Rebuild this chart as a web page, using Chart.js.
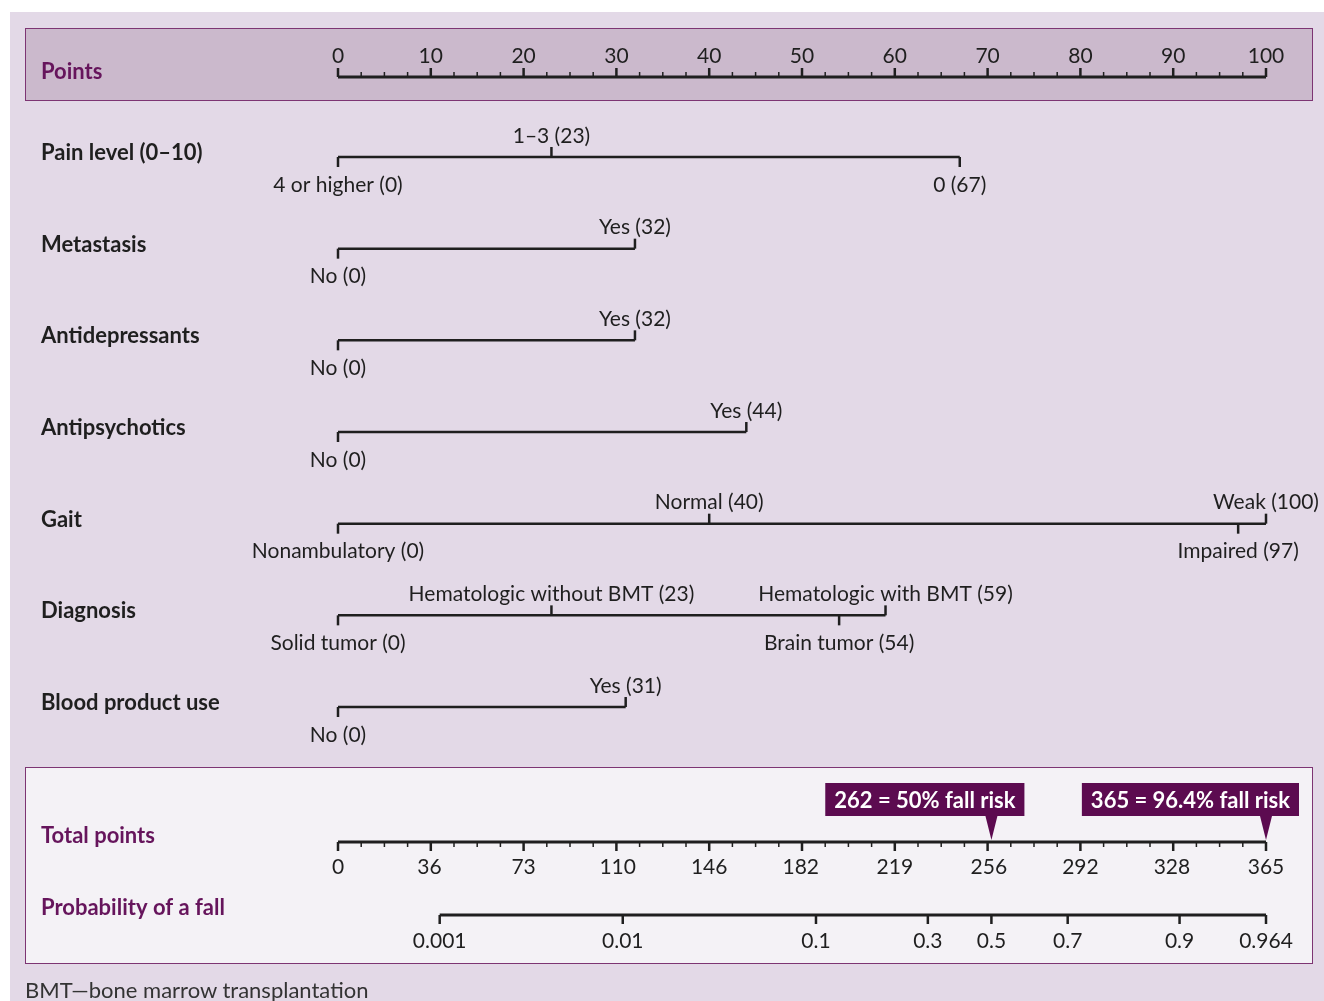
<!DOCTYPE html>
<html>
<head>
<meta charset="utf-8">
<script src="https://cdn.jsdelivr.net/npm/chart.js@4.4.0/dist/chart.umd.min.js"></script>
<style>
    body { margin: 0; background: #fff; width: 1324px; height: 1001px; position: relative; overflow: hidden; font-family: Lato, sans-serif; }
    #panel { position: absolute; left: 10px; top: 12px; width: 1314px; height: 989px; background: #e3d9e7; }
    .box { position: absolute; left: 25px; width: 1288px; border: 1.5px solid #7d3573; box-sizing: border-box; }
    #topBox { top: 28px; height: 73px; background: #cbb9cc; }
    #bottomBox { top: 767px; height: 197px; background: #f4f2f6; }
    #note { position: absolute; left: 25px; top: 976px; font-size: 22px; color: #333; }
    #c { position: absolute; left: 0; top: 0; }
</style>
</head>
<body>
<div id="panel"></div>
<div class="box" id="topBox"></div>
<div class="box" id="bottomBox"></div>
<canvas id="c" width="1324" height="1001"></canvas>
<div id="note">BMT—bone marrow transplantation</div>

<script>
// ---- data ----
const variableNames = ['Pain level (0–10)', 'Metastasis', 'Antidepressants', 'Antipsychotics', 'Gait', 'Diagnosis', 'Blood product use'];

const painLevels = ['4 or higher', '1–3', '0'];
const painPoints = [0, 23, 67];
const metastasisLevels = ['No', 'Yes'];
const metastasisPoints = [0, 32];
const antidepressantLevels = ['No', 'Yes'];
const antidepressantPoints = [0, 32];
const antipsychoticLevels = ['No', 'Yes'];
const antipsychoticPoints = [0, 44];
const gaitLevels = ['Nonambulatory', 'Normal', 'Impaired', 'Weak'];
const gaitPoints = [0, 40, 97, 100];
const diagnosisLevels = ['Solid tumor', 'Hematologic without BMT', 'Brain tumor', 'Hematologic with BMT'];
const diagnosisPoints = [0, 23, 54, 59];
const bloodLevels = ['No', 'Yes'];
const bloodPoints = [0, 31];

const pointTicks = [0, 10, 20, 30, 40, 50, 60, 70, 80, 90, 100];
const totalTicks = [0, 36, 73, 110, 146, 182, 219, 256, 292, 328, 365];
const probLabels = ['0.001', '0.01', '0.1', '0.3', '0.5', '0.7', '0.9', '0.964'];
const probTotals = [40, 112, 188, 232, 257, 287, 331, 365];   // where each probability sits on the total points scale

const riskNotes = ['262 = 50% fall risk', '365 = 96.4% fall risk'];
const riskProbs = ['0.5', '0.964'];

const allLevels = [painLevels, metastasisLevels, antidepressantLevels, antipsychoticLevels, gaitLevels, diagnosisLevels, bloodLevels];
const allPoints = [painPoints, metastasisPoints, antidepressantPoints, antipsychoticPoints, gaitPoints, diagnosisPoints, bloodPoints];

// ---- layout (pixels on the y scale) ----
const rowTop = 157, rowGap = 91.67;
const pointsAxisY = 77, totalAxisY = 842, probAxisY = 915;
const rowY = variableNames.map((_, i) => rowTop + i * rowGap);
const MINOR_PER_MAJOR = 4;   // 3 small ticks between labelled ticks

const INK = '#1f1f1f';
const PURPLE = '#66155c';
const NAME_X = 41;

function seg(ctx, x1, y1, x2, y2, w) {
    ctx.beginPath();
    ctx.lineWidth = w;
    ctx.moveTo(x1, y1);
    ctx.lineTo(x2, y2);
    ctx.stroke();
}

const nomogram = {
    id: 'nomogram',
    afterDatasetsDraw(chart) {
        const { ctx } = chart;
        const x = chart.scales.x, total = chart.scales.total, y = chart.scales.y;
        ctx.save();
        ctx.strokeStyle = INK;
        ctx.lineCap = 'butt';
        ctx.textBaseline = 'middle';

        // Points axis
        const py = y.getPixelForValue(pointsAxisY);
        const nP = (pointTicks.length - 1) * MINOR_PER_MAJOR;
        for (let k = 0; k <= nP; k++) {
            const px = x.getPixelForValue(k * 100 / nP);
            const major = k % MINOR_PER_MAJOR === 0;
            seg(ctx, px, py, px, py - (major ? 9 : 5), major ? 2.5 : 1.5);
        }
        ctx.font = '21px Lato';
        ctx.fillStyle = INK;
        ctx.textAlign = 'center';
        pointTicks.forEach(v => ctx.fillText(String(v), x.getPixelForValue(v), py - 21));
        ctx.font = 'bold 22px Lato';
        ctx.fillStyle = PURPLE;
        ctx.textAlign = 'left';
        ctx.fillText('Points', NAME_X, py - 5);

        // variable rows
        variableNames.forEach((name, i) => {
            const ry = y.getPixelForValue(rowY[i]);
            ctx.font = 'bold 22px Lato';
            ctx.fillStyle = INK;
            ctx.textAlign = 'left';
            ctx.fillText(name, NAME_X, ry - 4);
            ctx.font = '21px Lato';
            ctx.textAlign = 'center';
            allPoints[i].forEach((p, j) => {
                const px = x.getPixelForValue(p);
                const up = j % 2 === 1;
                seg(ctx, px, ry, px, ry + (up ? -10 : 10), 2.5);
                ctx.fillText(`${allLevels[i][j]} (${p})`, px, up ? ry - 21 : ry + 28);
            });
        });

        // Total points axis
        const ty = y.getPixelForValue(totalAxisY);
        const nT = (totalTicks.length - 1) * MINOR_PER_MAJOR;
        for (let k = 0; k <= nT; k++) {
            const px = total.getPixelForValue(k * 365 / nT);
            const major = k % MINOR_PER_MAJOR === 0;
            seg(ctx, px, ty, px, ty + (major ? 9 : 5), major ? 2.5 : 1.5);
        }
        ctx.font = '21px Lato';
        ctx.fillStyle = INK;
        ctx.textAlign = 'center';
        totalTicks.forEach(v => ctx.fillText(String(v), total.getPixelForValue(v), ty + 25));

        // Probability axis
        const qy = y.getPixelForValue(probAxisY);
        probTotals.forEach((t, i) => {
            const px = total.getPixelForValue(t);
            seg(ctx, px, qy, px, qy + 9, 2.5);
            ctx.fillText(probLabels[i], px, qy + 26);
        });

        ctx.font = 'bold 22px Lato';
        ctx.fillStyle = PURPLE;
        ctx.textAlign = 'left';
        ctx.fillText('Total points', NAME_X, ty - 6);
        ctx.fillText('Probability of a fall', NAME_X, qy - 7);

        // risk call-outs
        riskNotes.forEach((txt, i) => {
            const tipX = total.getPixelForValue(probTotals[probLabels.indexOf(riskProbs[i])]);
            ctx.font = 'bold 22px Lato';
            const w = ctx.measureText(txt).width + 18;
            const right = tipX + 33, left = right - w;
            const top = ty - 59, bottom = ty - 26;
            ctx.fillStyle = '#5c0b50';
            ctx.fillRect(left, top, w, bottom - top);
            ctx.beginPath();
            ctx.moveTo(tipX - 6, bottom);
            ctx.lineTo(tipX + 6, bottom);
            ctx.lineTo(tipX, ty - 2);
            ctx.closePath();
            ctx.fill();
            ctx.fillStyle = '#fff';
            ctx.textAlign = 'center';
            ctx.fillText(txt, left + w / 2, (top + bottom) / 2 + 1);
        });
        ctx.restore();
    }
};

function lineSet(xs, yv, axis, width) {
    return {
        data: [{ x: Math.min(...xs), y: yv }, { x: Math.max(...xs), y: yv }],
        xAxisID: axis,
        showLine: true,
        borderColor: INK,
        borderWidth: width,
        pointRadius: 0,
        borderCapStyle: 'butt'
    };
}

function draw() {
    const datasets = [
        lineSet(pointTicks, pointsAxisY, 'x', 3),
        ...allPoints.map((pts, i) => lineSet(pts, rowY[i], 'x', 2.5)),
        lineSet(totalTicks, totalAxisY, 'total', 3),
        lineSet(probTotals, probAxisY, 'total', 3)
    ];

    new Chart(document.getElementById('c'), {
        type: 'scatter',
        data: { datasets },
        options: {
            responsive: false,
            animation: false,
            layout: { padding: { left: 338, right: 58, top: 0, bottom: 0 } },
            plugins: { legend: { display: false }, tooltip: { enabled: false } },
            scales: {
                x: { type: 'linear', min: 0, max: 100, display: false },
                total: { type: 'linear', axis: 'x', min: 0, max: 365, display: false },
                y: { type: 'linear', min: 0, max: 1001, reverse: true, display: false }
            }
        },
        plugins: [nomogram]
    });
}

Promise.all([document.fonts.load('21px Lato'), document.fonts.load('bold 22px Lato')])
    .then(draw, draw);
</script>
</body>
</html>
